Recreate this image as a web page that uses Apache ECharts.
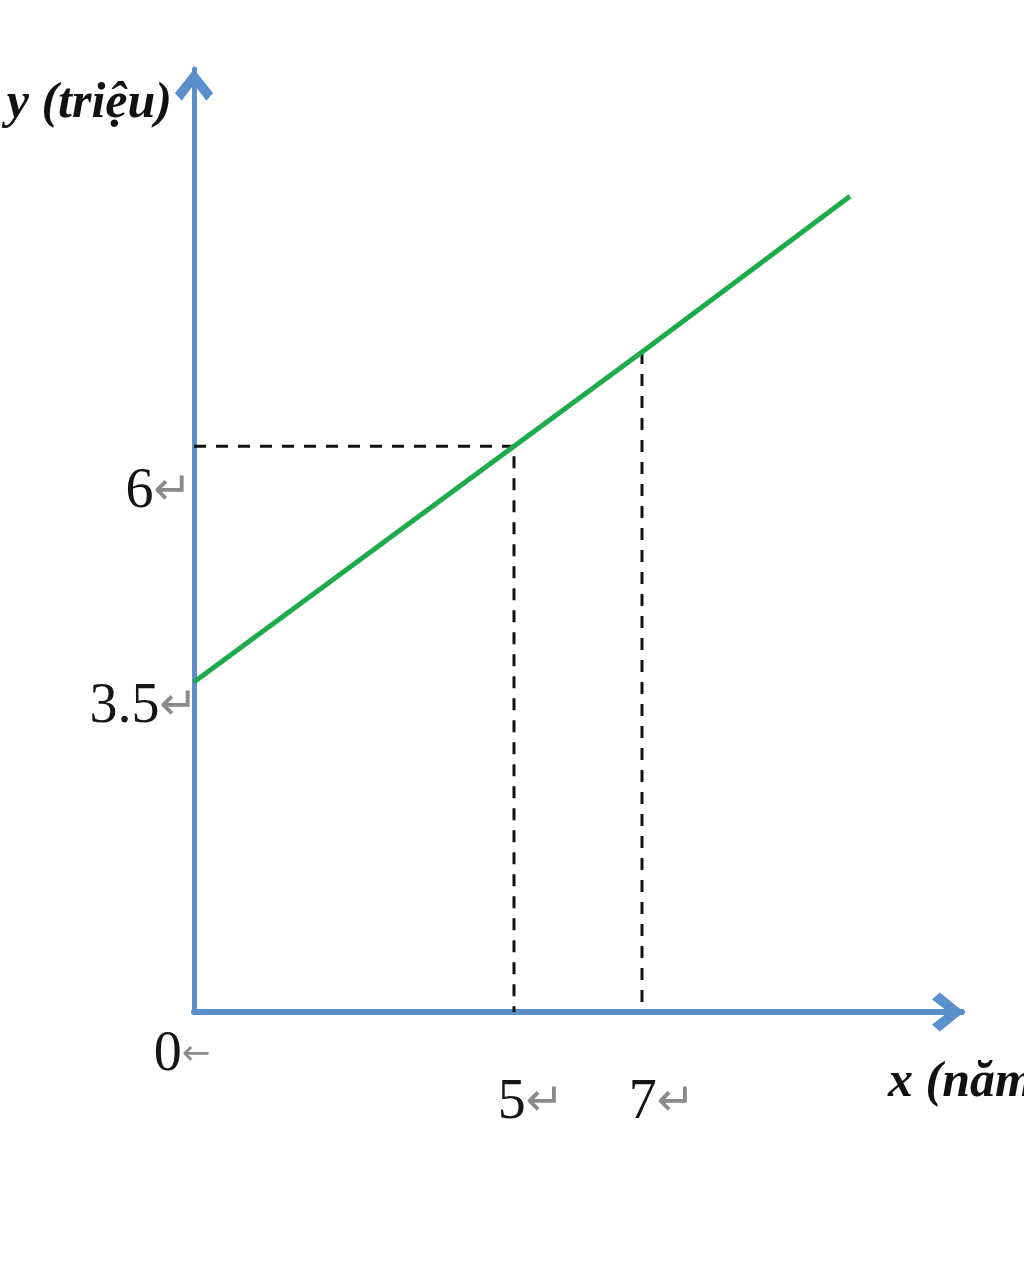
<!DOCTYPE html>
<html>
<head>
<meta charset="utf-8">
<script src="https://cdn.jsdelivr.net/npm/echarts@6/dist/echarts.min.js"></script>
<style>
html,body{margin:0;padding:0;background:#fff;}
#chart{width:1024px;height:1280px;}
</style>
</head>
<body>
<div id="chart"></div>
<script>
// values
const lineX = [0, 5, 7, 10.25];
const lineY = [3.5, 6, 7, 8.65];
const guideX = [5, 7];          // vertical dashed guides
const guideY = [6, 7];          // heights of the guides
const xTicks = [0, 5, 7];
const yTicks = [3.5, 6];
const xMax = 12, yMax = 10;
const yName = 'y (triệu)';
const xName = 'x (năm)';

const blue = '#5a8fcc';
const green = '#1dab4b';
const arrowPath = 'path://M20 0 L40 25 L33 33 L20 16 L7 33 L0 25 Z';

const chart = echarts.init(document.getElementById('chart'), null, {renderer: 'canvas'});

const mainData = lineX.map((x, i) => [x, lineY[i]]);
const guide1 = [[0, guideY[0]], [guideX[0], guideY[0]], [guideX[0], 0]];
const guide2 = [[guideX[1], guideY[1]], [guideX[1], 0]];

const rich = {
  a: {fontSize: 56, fontFamily: 'Liberation Serif, Times New Roman, serif', color: '#151515', lineHeight: 58},
  m: {fontSize: 46, fontFamily: 'DejaVu Sans', color: '#8a8a8a', lineHeight: 58},
  l: {fontSize: 34, fontFamily: 'DejaVu Sans', color: '#8a8a8a', lineHeight: 58},
  s1: {lineHeight: 92, fontSize: 10},
  s2: {lineHeight: 50, fontSize: 10},
  sx: {lineHeight: 48, fontSize: 10},
  r10: {width: 6, fontSize: 10},
  p20: {width: 24, fontSize: 10},
  p32: {width: 34, fontSize: 10},
  p38: {width: 40, fontSize: 10}
};

chart.setOption({
  animation: false,
  backgroundColor: '#ffffff',
  grid: {left: 194, right: 62, top: 69, bottom: 268, containLabel: false, outerBoundsMode: 'none'},
  xAxis: {
    type: 'value', min: 0, max: xMax,
    name: xName, nameLocation: 'end', nameGap: -74,
    nameTextStyle: {
      fontFamily: 'Liberation Serif, Times New Roman, serif', fontStyle: 'italic', fontWeight: 'bold',
      fontSize: 50, color: '#111', align: 'left', verticalAlign: 'top', lineHeight: 50, padding: [46, 0, 0, 0]
    },
    splitLine: {show: false}, axisTick: {show: false},
    axisLine: {
      show: true, onZero: true,
      lineStyle: {color: blue, width: 6},
      symbol: ['none', arrowPath], symbolSize: [44, 32], symbolOffset: [0, -14]
    },
    axisLabel: {
      customValues: xTicks, margin: 14, rich: rich,
      formatter: function (v) {
        if (v === 0) return '{a|0}{l|←}{p20| }';
        if (v === 5) return '{sx| }\n{p32| }{a|5}{m|↵}';
        return '{sx| }\n{p38| }{a|7}{m|↵}';
      }
    }
  },
  yAxis: {
    type: 'value', min: 0, max: yMax,
    name: yName, nameLocation: 'end', nameGap: -35,
    nameTextStyle: {
      fontFamily: 'Liberation Serif, Times New Roman, serif', fontStyle: 'italic', fontWeight: 'bold',
      fontSize: 50, color: '#111', align: 'right', verticalAlign: 'middle', padding: [0, 22, 0, 0]
    },
    splitLine: {show: false}, axisTick: {show: false},
    axisLine: {
      show: true,
      lineStyle: {color: blue, width: 5},
      symbol: ['none', arrowPath], symbolSize: [38, 38], symbolOffset: [0, -16]
    },
    axisLabel: {
      customValues: yTicks, margin: -4, rich: rich,
      formatter: function (v) {
        if (v === 6) return '{s1| }\n{a|6}{m|↵}{r10| }';
        return '{s2| }\n{a|3.5}{m|↵}';
      }
    }
  },
  series: [
    {
      type: 'line', data: guide1, symbol: 'none', z: 1, silent: true,
      lineStyle: {color: '#111', width: 3, type: [12, 10]}
    },
    {
      type: 'line', data: guide2, symbol: 'none', z: 1, silent: true,
      lineStyle: {color: '#111', width: 3, type: [12, 10]}
    },
    {
      type: 'line', data: mainData, symbol: 'none', z: 3, silent: true,
      lineStyle: {color: green, width: 5}
    }
  ]
});
</script>
</body>
</html>
